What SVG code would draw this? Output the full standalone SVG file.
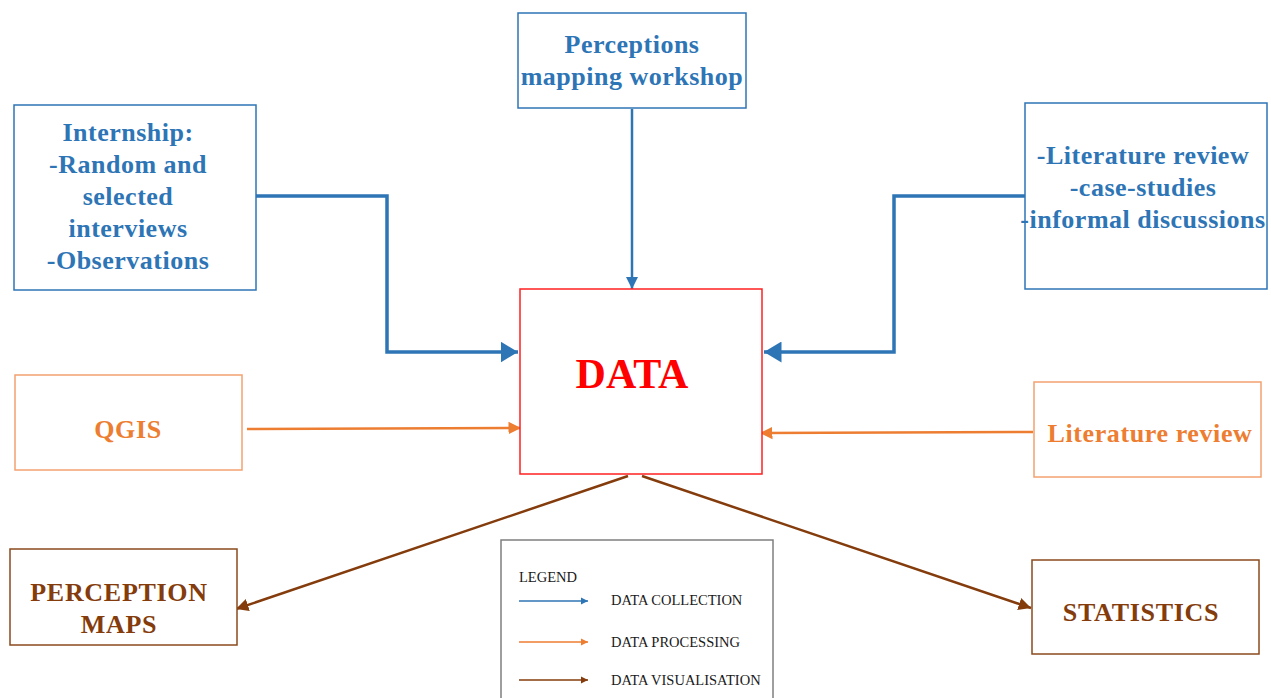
<svg xmlns="http://www.w3.org/2000/svg" width="1271" height="698" viewBox="0 0 1271 698">
  <style>
    .box { fill: #ffffff; stroke-width: 1.5; }
    .blue { stroke: #2E75B6; }
    .orange { stroke: #F4A070; }
    .brown { stroke: #8B4A1C; }
    .red { stroke: #FF2020; }
    .t { font-family: "Liberation Serif", "Times New Roman", serif; font-weight: bold; text-anchor: middle; }
    .tb { fill: #2E75B6; font-size: 26px; letter-spacing: 0.5px; }
    .to { fill: #ED7D31; font-size: 26px; letter-spacing: 0.6px; }
    .tr { fill: #843C0C; font-size: 26px; letter-spacing: 0.7px; }
    .lg { font-family: "Liberation Serif", "Times New Roman", serif; font-size: 14.5px; fill: #1a1a1a; }
  </style>
  <defs>
    <marker id="bigBlue" markerWidth="6" markerHeight="6" refX="5" refY="3" orient="auto" markerUnits="strokeWidth">
      <path d="M0,0 L5,3 L0,6 Z" fill="#2E75B6"/>
    </marker>
    <marker id="smBlue" markerWidth="6" markerHeight="6" refX="5" refY="3" orient="auto" markerUnits="strokeWidth">
      <path d="M0,0.5 L5,3 L0,5.5 Z" fill="#2E75B6"/>
    </marker>
    <marker id="smOrange" markerWidth="6" markerHeight="6" refX="5" refY="3" orient="auto" markerUnits="strokeWidth">
      <path d="M0,0.5 L5,3 L0,5.5 Z" fill="#ED7D31"/>
    </marker>
    <marker id="smBrown" markerWidth="6" markerHeight="6" refX="5" refY="3" orient="auto" markerUnits="strokeWidth">
      <path d="M0,0.5 L5,3 L0,5.5 Z" fill="#843C0C"/>
    </marker>
  </defs>

  <!-- connectors -->
  <g id="connectors" fill="none">
    <polyline points="256,196 387,196 387,352 518,352" stroke="#2E75B6" stroke-width="3.5" marker-end="url(#bigBlue)"/>
    <polyline points="1025,196 894,196 894,352 764,352" stroke="#2E75B6" stroke-width="3.5" marker-end="url(#bigBlue)"/>
    <line x1="632" y1="109" x2="632" y2="289" stroke="#2E75B6" stroke-width="2.5" marker-end="url(#smBlue)"/>
    <line x1="247" y1="429" x2="521" y2="428" stroke="#ED7D31" stroke-width="2.5" marker-end="url(#smOrange)"/>
    <line x1="1033" y1="432" x2="760" y2="433" stroke="#ED7D31" stroke-width="2.5" marker-end="url(#smOrange)"/>
    <line x1="628" y1="476" x2="236" y2="609" stroke="#843C0C" stroke-width="2.5" marker-end="url(#smBrown)"/>
    <line x1="642" y1="476" x2="1031" y2="608" stroke="#843C0C" stroke-width="2.5" marker-end="url(#smBrown)"/>
  </g>

  <g id="workshop">
    <rect class="box blue" x="518" y="13" width="228" height="95"/>
    <text class="t tb" x="632" y="53">Perceptions</text>
    <text class="t tb" x="632" y="85">mapping workshop</text>
  </g>

  <g id="internship">
    <rect class="box blue" x="14" y="105" width="242" height="185"/>
    <text class="t tb" x="128" y="141">Internship:</text>
    <text class="t tb" x="128" y="173">-Random and</text>
    <text class="t tb" x="128" y="205">selected</text>
    <text class="t tb" x="128" y="237">interviews</text>
    <text class="t tb" x="128" y="269">-Observations</text>
  </g>

  <g id="literature-collection">
    <rect class="box blue" x="1025" y="103" width="242" height="186"/>
    <text class="t tb" x="1143" y="164">-Literature review</text>
    <text class="t tb" x="1143" y="196">-case-studies</text>
    <text class="t tb" x="1143" y="228">-informal discussions</text>
  </g>

  <g id="data">
    <rect class="box red" x="520" y="289" width="242" height="185"/>
    <text class="t" x="632" y="388" fill="#FF0000" font-size="42">DATA</text>
  </g>

  <g id="qgis">
    <rect class="box orange" x="15" y="375" width="227" height="95"/>
    <text class="t to" x="128" y="438">QGIS</text>
  </g>

  <g id="literature-processing">
    <rect class="box orange" x="1034" y="382" width="227" height="95"/>
    <text class="t to" x="1150" y="442">Literature review</text>
  </g>

  <g id="perception-maps">
    <rect class="box brown" x="10" y="549" width="227" height="96"/>
    <text class="t tr" x="119" y="601">PERCEPTION</text>
    <text class="t tr" x="119" y="633">MAPS</text>
  </g>

  <g id="statistics">
    <rect class="box brown" x="1032" y="560" width="227" height="94"/>
    <text class="t tr" x="1141" y="621">STATISTICS</text>
  </g>

  <g id="legend">
    <rect x="501" y="540" width="272" height="170" fill="#ffffff" stroke="#7F7F7F" stroke-width="1.5"/>
    <text class="lg" x="519" y="582">LEGEND</text>
    <line x1="519" y1="601" x2="588" y2="601" stroke="#2E75B6" stroke-width="1.5" marker-end="url(#smBlue)"/>
    <text class="lg" x="611" y="605">DATA COLLECTION</text>
    <line x1="519" y1="642" x2="588" y2="642" stroke="#ED7D31" stroke-width="1.5" marker-end="url(#smOrange)"/>
    <text class="lg" x="611" y="647">DATA PROCESSING</text>
    <line x1="519" y1="680" x2="588" y2="680" stroke="#843C0C" stroke-width="1.5" marker-end="url(#smBrown)"/>
    <text class="lg" x="611" y="685">DATA VISUALISATION</text>
  </g>
</svg>
